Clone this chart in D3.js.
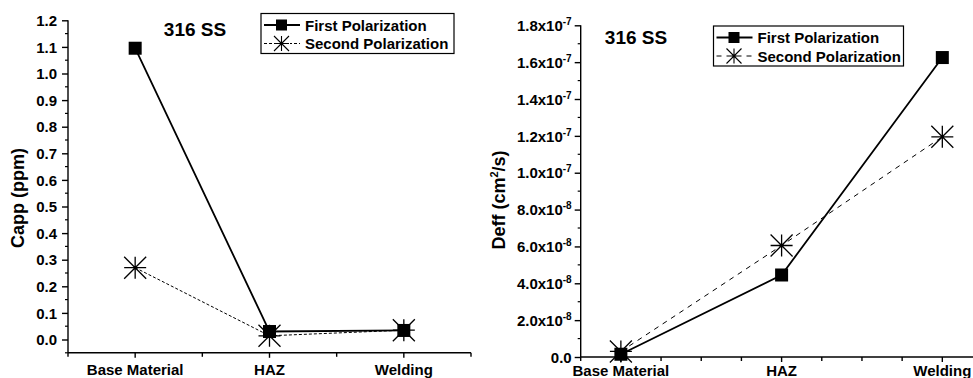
<!DOCTYPE html>
<html lang="en">
<head>
<meta charset="UTF-8">
<title>316 SS polarization</title>
<script src="https://d3js.org/d3.v7.min.js"></script>
<style>
    body { margin: 0; background: #fff; }
    svg { display: block; font-family: Arial, "Liberation Sans", sans-serif; font-weight: bold; }
    .axis path, .axis line { stroke: #000; stroke-width: 1.4px; }
</style>
</head>
<body>
<svg id="chart" width="973" height="378"></svg>
<script>
    // data
    const categories = ["Base Material", "HAZ", "Welding"];
    const seriesNames = ["First Polarization", "Second Polarization"];

    const cappFirst = [1.095, 0.030, 0.034];
    const cappSecond = [0.270, 0.014, 0.035];
    const cappTicks = [0, 0.1, 0.2, 0.3, 0.4, 0.5, 0.6, 0.7, 0.8, 0.9, 1.0, 1.1, 1.2];

    const deffFirst = [0.15e-8, 4.45e-8, 1.625e-7];
    const deffSecond = [0.3e-8, 6.05e-8, 1.195e-7];
    const deffTicks = [0, 2e-8, 4e-8, 6e-8, 8e-8, 1e-7, 1.2e-7, 1.4e-7, 1.6e-7, 1.8e-7];

    const svg = d3.select("#chart");

    const starPath = r => `M${-r},0L${r},0M0,${-r}L0,${r}M${-r},${-r}L${r},${r}M${-r},${r}L${r},${-r}`;

    function sciLabel(sel, v) {
        if (v === 0) { sel.text("0.0"); return; }
        const e = Math.floor(Math.log10(v) + 1e-9);
        const m = v / Math.pow(10, e);
        sel.text(null);
        sel.append("tspan").text(m.toFixed(1) + "x10");
        sel.append("tspan").attr("dy", -6).attr("font-size", 10).text(e);
    }

    function drawPanel(p) {
        const g = svg.append("g");
        const x = d3.scaleLinear().domain(p.xDomain).range(p.xRange);
        const y = d3.scaleLinear().domain(p.yDomain).range(p.yRange);

        // y axis
        const yAxis = d3.axisLeft(y).tickValues(p.yTicks).tickSize(6).tickSizeOuter(0)
            .tickFormat(p.yFormat);
        const ya = g.append("g").attr("class", "axis").attr("transform", `translate(${p.xRange[0]},0)`).call(yAxis);
        ya.attr("font-family", null).attr("font-size", null);
        ya.selectAll("text").attr("font-size", 15).attr("x", p.yLabelX).attr("dy", "0.35em");
        if (p.sci) ya.selectAll(".tick text").each(function(d) { sciLabel(d3.select(this), d); });
        ya.select(".domain").attr("d", `M0,${p.yRange[0]}V${p.yRange[1]}`);
        const step = p.yTicks[1] - p.yTicks[0];
        const minors = [];
        for (let i = 0; i < p.yTicks.length; i++) {
            const v = p.yTicks[i] - step / 2;
            if (v >= p.yDomain[0] - 1e-12) minors.push(v);
        }
        g.selectAll(".yminor").data(minors).join("line")
            .attr("x1", p.xRange[0] - 3).attr("x2", p.xRange[0])
            .attr("y1", d => y(d)).attr("y2", d => y(d))
            .attr("stroke", "#000").attr("stroke-width", 1.2);

        // x axis
        const xa = g.append("g").attr("class", "axis").attr("transform", `translate(0,${p.yRange[0]})`);
        xa.append("line").attr("x1", p.xRange[0]).attr("x2", p.xRange[1]).attr("stroke", "#000").attr("stroke-width", 1.4);
        const xt = d3.range(p.xDomain[0], p.xDomain[1] + 1e-9, p.xTickStep);
        xa.selectAll(".xt").data(xt).join("line")
            .attr("x1", d => x(d)).attr("x2", d => x(d))
            .attr("y1", 0).attr("y2", d => Number.isInteger(Math.round(d * 1000) / 1000) ? 5 : 4)
            .attr("stroke", "#000").attr("stroke-width", 1.2);
        xa.selectAll(".xl").data(categories).join("text")
            .attr("x", (d, i) => x(i))
            .attr("y", (d, i) => p.xLabelY[i] - p.yRange[0])
            .attr("text-anchor", "middle").attr("font-size", 15)
            .text(d => d);

        // series lines
        const line = d3.line().x((d, i) => x(i)).y(d => y(d));
        g.append("path").datum(p.second).attr("d", line)
            .attr("fill", "none").attr("stroke", "#000").attr("stroke-width", 1)
            .attr("stroke-dasharray", p.dash);
        g.append("path").datum(p.first).attr("d", line)
            .attr("fill", "none").attr("stroke", "#000").attr("stroke-width", 1.8);

        g.selectAll(".sq").data(p.first).join("rect")
            .attr("x", (d, i) => x(i) - 6.5).attr("y", d => y(d) - 6.5)
            .attr("width", 13).attr("height", 13).attr("fill", "#000");
        g.selectAll(".st").data(p.second).join("path")
            .attr("transform", (d, i) => `translate(${x(i)},${y(d)})`)
            .attr("d", starPath(11)).attr("stroke", "#000").attr("stroke-width", 1.3).attr("fill", "none");

        // title
        g.append("text").attr("x", p.title[0]).attr("y", p.title[1])
            .attr("text-anchor", "middle").attr("font-size", 19).text("316 SS");

        // y axis title
        const yt = g.append("text")
            .attr("transform", `translate(${p.yTitle[0]},${p.yTitle[1]}) rotate(-90)`)
            .attr("text-anchor", "middle").attr("font-size", 18);
        p.yTitleParts.forEach(t => {
            const s = yt.append("tspan").text(t[0]);
            if (t[1]) s.attr("dy", t[1]).attr("font-size", t[2]);
        });

        // legend
        const [lx, ly, lw, lh] = p.legend;
        const lg = g.append("g").attr("transform", `translate(${lx},${ly})`);
        lg.append("rect").attr("width", lw).attr("height", lh)
            .attr("fill", "#fff").attr("stroke", "#000").attr("stroke-width", 1.2);
        const rows = [11.5, 30];
        seriesNames.forEach((name, i) => {
            const r = lg.append("g").attr("transform", `translate(0,${rows[i]})`);
            r.append("line").attr("x1", 3).attr("x2", 39)
                .attr("stroke", "#000").attr("stroke-width", i ? 1 : 1.8)
                .attr("stroke-dasharray", i ? p.dash : null);
            if (i === 0) {
                r.append("rect").attr("x", 15).attr("y", -5.5).attr("width", 11).attr("height", 11).attr("fill", "#000");
            } else {
                r.append("rect").attr("x", 12).attr("y", -8).attr("width", 17).attr("height", 16).attr("fill", "#fff");
                r.append("path").attr("transform", "translate(20.5,0)").attr("d", starPath(7.5))
                    .attr("stroke", "#000").attr("stroke-width", 1.1);
            }
            r.append("text").attr("x", 44).attr("y", 5.5).attr("font-size", 15).text(name);
        });
    }

    drawPanel({
        first: cappFirst, second: cappSecond,
        xDomain: [-0.5, 2.5], xRange: [68, 471], xTickStep: 0.5,
        yDomain: [-0.05, 1.2], yRange: [352.8, 20.3],
        yTicks: cappTicks, yFormat: d3.format(".1f"), yLabelX: -11, sci: false,
        xLabelY: [375, 375, 375],
        dash: "3,2",
        title: [195, 36],
        yTitle: [24, 198], yTitleParts: [["Capp (ppm)"]],
        legend: [261, 13.5, 193, 40]
    });

    drawPanel({
        first: deffFirst, second: deffSecond,
        xDomain: [-0.25, 2.25], xRange: [580.7, 982.5], xTickStep: 0.25,
        yDomain: [0, 1.8e-7], yRange: [357, 25.3],
        yTicks: deffTicks, yFormat: d => d, yLabelX: -9, sci: true,
        xLabelY: [375.5, 375.5, 375.5],
        dash: "5,5",
        title: [636, 43.5],
        yTitle: [505, 200], yTitleParts: [["Deff (cm"], ["2", -7, 11], ["/s)", 7, 18]],
        legend: [713.5, 26, 190, 40]
    });
</script>
</body>
</html>
